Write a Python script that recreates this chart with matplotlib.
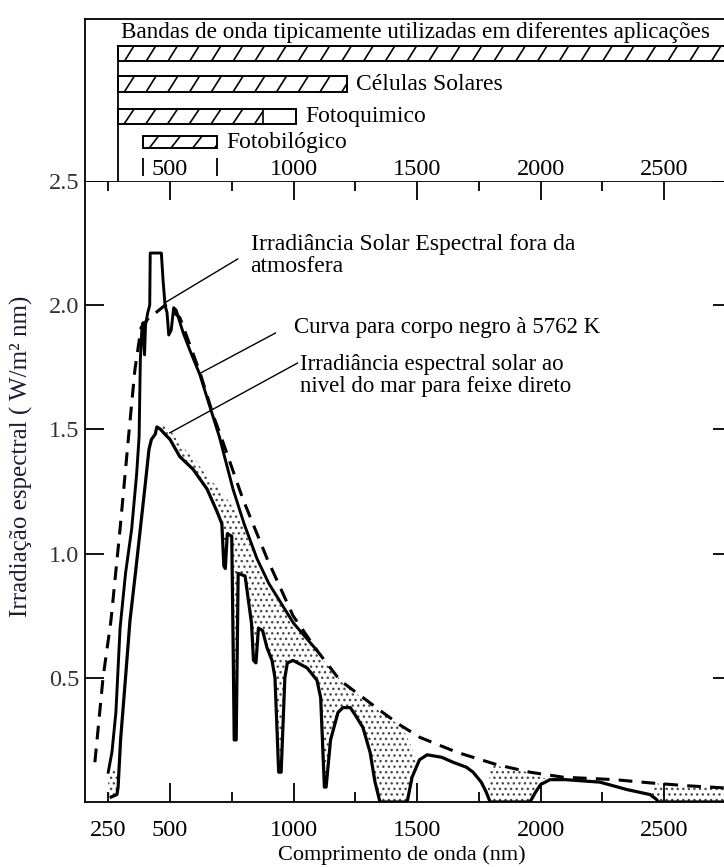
"""Solar spectral irradiance: outside the atmosphere, at sea level, and a 5762 K blackbody."""

import matplotlib

matplotlib.use("Agg")
import matplotlib.pyplot as plt
import numpy as np
from matplotlib.patches import Rectangle
from matplotlib.ticker import FixedFormatter, FixedLocator

plt.rcParams["font.family"] = ["Liberation Serif", "DejaVu Serif"]
plt.rcParams["hatch.linewidth"] = 1.0

# spectral irradiance outside the atmosphere (W/m^2 nm)
et_nm = [250, 265, 281, 298, 320, 345, 365, 375, 380, 386, 391, 394, 397, 401, 410,
         418, 420, 465, 472, 480, 488, 495, 505, 515, 525, 553, 580, 621, 662, 700,
         755, 800, 852, 900, 1000, 1095]
et_val = [0.12, 0.20, 0.36, 0.70, 0.92, 1.10, 1.32, 1.47, 1.78, 1.90, 1.93, 1.86, 1.80, 1.92, 1.97,
          2.00, 2.21, 2.21, 2.10, 2.00, 1.97, 1.88, 1.90, 1.99, 1.98, 1.89, 1.82, 1.72, 1.59, 1.47,
          1.26, 1.12, 0.98, 0.88, 0.72, 0.61]

# blackbody curve at 5762 K
bb_nm = [196, 229, 261, 298, 335, 358, 383, 415, 443, 480, 540, 621, 674, 714, 795,
         893, 998, 1095, 1188, 1362, 1431, 1512, 1662, 1824, 1957, 2091, 2300, 2443, 2600, 2775]
bb_val = [0.16, 0.50, 0.73, 1.10, 1.50, 1.74, 1.91, 1.95, 1.97, 2.00, 1.95, 1.73, 1.56, 1.45, 1.22,
          0.98, 0.75, 0.61, 0.49, 0.36, 0.31, 0.26, 0.20, 0.15, 0.12, 0.10, 0.09, 0.077, 0.065, 0.055]

# direct beam at sea level
sea_nm = [262, 285, 290, 300, 320, 338, 360, 380, 400, 415, 425, 440, 447, 462, 480,
          500, 540, 593, 650, 690, 710, 718, 724, 732, 750, 756, 760, 768, 776, 804,
          830, 838, 848, 858, 875, 893, 913, 925, 940, 950, 965, 975, 998, 1055, 1095,
          1110, 1125, 1132, 1150, 1180, 1200, 1230, 1250, 1281, 1310, 1330, 1350, 1460, 1480, 1510,
          1541, 1600, 1646, 1700, 1727, 1760, 1780, 1796, 1957, 1980, 2000, 2038, 2100, 2240, 2350,
          2443, 2470, 2476, 2775]
sea_val = [0.02, 0.03, 0.06, 0.25, 0.50, 0.73, 0.92, 1.10, 1.28, 1.42, 1.46, 1.48, 1.51, 1.50, 1.48,
           1.46, 1.39, 1.34, 1.26, 1.17, 1.12, 0.95, 0.94, 1.08, 1.07, 0.60, 0.25, 0.25, 0.92, 0.91,
           0.72, 0.57, 0.56, 0.70, 0.69, 0.62, 0.57, 0.50, 0.12, 0.12, 0.50, 0.56, 0.57, 0.54, 0.49,
           0.42, 0.06, 0.06, 0.25, 0.36, 0.38, 0.38, 0.35, 0.30, 0.20, 0.08, 0.0, 0.0, 0.10, 0.17,
           0.19, 0.18, 0.16, 0.14, 0.12, 0.08, 0.04, 0.0, 0.0, 0.04, 0.07, 0.09, 0.09, 0.08, 0.05,
           0.03, 0.01, 0.0, 0.0]

# upper edge of the stippled (absorbed) region
shade_nm = [250, 270, 290, 300, 420, 445, 470, 500, 540, 600, 650, 700, 730, 760, 800,
            850, 900, 950, 1000, 1095, 1200, 1300, 1400, 1440, 1470, 1500, 1560, 1780, 1800, 1850,
            1900, 1950, 2000, 2040, 2300, 2440, 2460, 2600, 2775]
shade_top = [0.10, 0.14, 0.12, 0.0, 0.0, 1.51, 1.52, 1.50, 1.44, 1.38, 1.31, 1.26, 1.22, 1.18, 1.10,
             0.97, 0.87, 0.79, 0.72, 0.60, 0.48, 0.40, 0.33, 0.30, 0.24, 0.17, 0.0, 0.0, 0.15, 0.14,
             0.13, 0.12, 0.10, 0.09, 0.0, 0.0, 0.075, 0.065, 0.055]

# wavebands used in applications (nm)
band_names = ["", "Células Solares", "Fotoquimico", "Fotobilógico"]
band_start = [290, 290, 290, 390]
band_hatch_end = [2800, 1215, 877, 690]
band_end = [2800, 1215, 1010, 690]
band_ticks = [500, 1000, 1500, 2000, 2500]

x_major = [500, 1000, 1500, 2000, 2500]
x_minor = [250, 750, 1250, 1750, 2250, 2750]
y_ticks = [0.5, 1.0, 1.5, 2.0, 2.5]

W, H = 724, 867


def px_box(left, top, right, bottom):
    return [left / W, 1 - bottom / H, (right - left) / W, (bottom - top) / H]


fig = plt.figure(figsize=(W / 100, H / 100), dpi=100)
ax = fig.add_axes(px_box(85, 181, 732, 802))
ax_top = fig.add_axes(px_box(85, 19, 732, 181), sharex=ax)

# --- main spectrum panel ---
ax.set_xlim(156, 2775)
ax.set_ylim(0, 2.5)

grid = np.unique(np.concatenate([sea_nm, shade_nm, np.arange(250, 2776, 5)]))
lower = np.interp(grid, sea_nm, sea_val)
upper = np.interp(grid, shade_nm, shade_top)
ax.fill_between(grid, lower, upper, where=upper > lower, interpolate=True,
                facecolor="none", edgecolor="#4a4a4a", hatch="...", linewidth=0, zorder=1)

ax.plot(bb_nm, bb_val, color="black", lw=2.2, dashes=(4.5, 3.0), zorder=3)
ax.plot(et_nm, et_val, color="black", lw=2.1, zorder=3)
ax.plot(sea_nm, sea_val, color="black", lw=2.3, zorder=3)

for s in ax.spines.values():
    s.set_linewidth(1.3)

ax.xaxis.set_major_locator(FixedLocator(x_major))
ax.xaxis.set_minor_locator(FixedLocator(x_minor))
ax.xaxis.set_minor_formatter(FixedFormatter(["250", "", "", "", "", ""]))
ax.yaxis.set_major_locator(FixedLocator(y_ticks))
ax.yaxis.set_major_formatter(FixedFormatter([f"{v:.1f}" for v in y_ticks]))
ax.tick_params(axis="both", which="both", direction="in", top=True, right=True,
               width=1.3, labelsize=17.5)
ax.tick_params(axis="both", which="major", length=14)
ax.tick_params(axis="x", which="minor", length=7)
ax.tick_params(axis="x", which="both", pad=13)
ax.tick_params(axis="y", which="both", pad=4, labelcolor="#333333")

ax.set_xlabel("Comprimento de onda (nm)", fontsize=16)
ax.xaxis.set_label_coords(0.49, -0.069)
ax.set_ylabel("Irradiação espectral ( W/m² nm)", fontsize=18, color="#1c1c3a")
ax.yaxis.set_label_coords(-0.08, 0.556)

ax.text(826, 2.20, "Irradiância Solar Espectral fora da\natmosfera", fontsize=17,
        ha="left", va="center", linespacing=1.05)
ax.plot([774, 483], [2.186, 2.012], color="black", lw=1.0)
ax.text(1000, 1.912, "Curva para corpo negro à 5762 K", fontsize=16.5, ha="left", va="center")
ax.plot([927, 624], [1.888, 1.727], color="black", lw=1.0)
ax.text(1028, 1.717, "Irradiância espectral solar ao\nnivel do mar para feixe direto", fontsize=16.5,
        ha="left", va="center", linespacing=1.05)
ax.plot([1016, 499], [1.767, 1.486], color="black", lw=1.0)

# --- application wavebands panel ---
ax_top.set_ylim(0, 1)
ax_top.tick_params(axis="both", which="both", bottom=False, top=False, left=False, right=False,
                   labelbottom=False, labelleft=False)
ax_top.spines["bottom"].set_visible(False)
ax_top.spines["right"].set_visible(False)
ax_top.spines["left"].set_linewidth(1.3)
ax_top.spines["top"].set_linewidth(1.3)

row_bottom = [0.738, 0.549, 0.354, 0.201]
row_height = [0.098, 0.097, 0.091, 0.079]

for i in range(len(band_names)):
    x0, x1, xh = band_start[i], band_end[i], band_hatch_end[i]
    y0, h = row_bottom[i], row_height[i]
    ax_top.add_patch(Rectangle((x0, y0), x1 - x0, h, fill=False, edgecolor="black", lw=1.4))
    clip = Rectangle((x0, y0), xh - x0, h, transform=ax_top.transData)
    for xs in np.arange(x0 + 25, xh + 40, 88):
        (ln,) = ax_top.plot([xs, xs + 40], [y0, y0 + h], color="black", lw=1.2)
        ln.set_clip_path(clip)
    if xh < x1:
        ax_top.plot([xh, xh], [y0, y0 + h], color="black", lw=1.2)
    if band_names[i]:
        ax_top.text(x1 + 40, y0 + h / 2, band_names[i], fontsize=17, ha="left", va="center")

ax_top.plot([band_start[0], band_start[0]], [0, row_bottom[0] + row_height[0]], color="black", lw=1.3)
ax_top.vlines([band_start[3], band_end[3]], 0.03, 0.14, color="black", lw=1.3)
ax_top.text(301, 0.915, "Bandas de onda tipicamente utilizadas em diferentes aplicações",
            fontsize=16.7, ha="left", va="center")
for t in band_ticks:
    ax_top.text(t, 0.07, str(t), fontsize=17.5, ha="center", va="center")

fig.savefig("out.png", dpi=100, facecolor="white")
